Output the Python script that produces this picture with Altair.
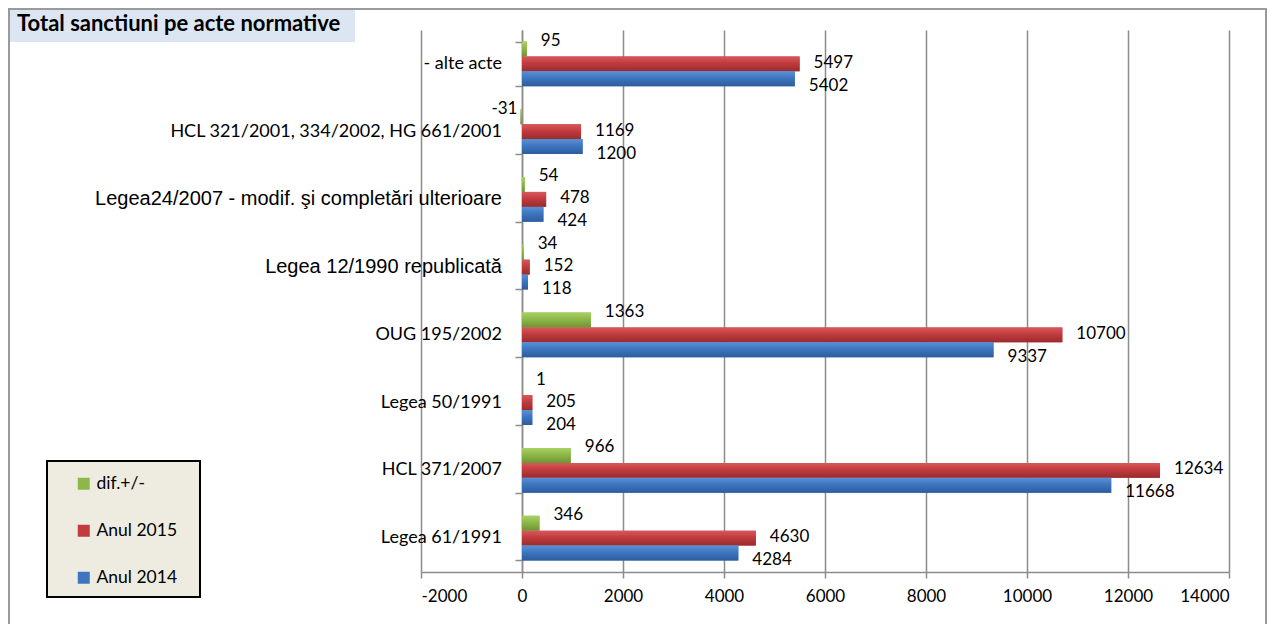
import altair as alt
import pandas as pd

categories = [
    "- alte acte",
    "HCL 321/2001, 334/2002, HG 661/2001",
    "Legea24/2007 - modif. şi completări ulterioare",
    "Legea 12/1990 republicată",
    "OUG 195/2002",
    "Legea 50/1991",
    "HCL 371/2007",
    "Legea 61/1991",
]
arial_categories = ["Legea24/2007 - modif. şi completări ulterioare", "Legea 12/1990 republicată"]
dif = [95, -31, 54, 34, 1363, 1, 966, 346]
anul_2015 = [5497, 1169, 478, 152, 10700, 205, 12634, 4630]
anul_2014 = [5402, 1200, 424, 118, 9337, 204, 11668, 4284]
series = ["dif.+/-", "Anul 2015", "Anul 2014"]
colors = ["#8DB849", "#C23B3E", "#3D76C0"]
shades = {
    "dif.+/-": ["#A9D063", "#8DB849", "#6F9434"],
    "Anul 2015": ["#D6595B", "#C23B3E", "#992B2E"],
    "Anul 2014": ["#5A90D4", "#3D76C0", "#2D5C9C"],
}
x_ticks = [-2000, 0, 2000, 4000, 6000, 8000, 10000, 12000, 14000]
title_text = "Total sanctiuni pe acte normative"

rows = []
for i, c in enumerate(categories):
    for s, vals in zip(series, [dif, anul_2015, anul_2014]):
        rows.append({"cat": c, "serie": s, "v": vals[i], "lab": str(vals[i])})
df = pd.DataFrame(rows)
cat_df = pd.DataFrame({"cat": categories, "arial": [c in arial_categories for c in categories]})

W, H = 808, 542
PL, PT, PR, PB = 413, 22, 38, 52
GRID = "#8C8C8C"
FONT = "Lato"

y_scale = alt.Scale(domain=categories, paddingInner=0.34, paddingOuter=0.17)
y_enc = alt.Y(
    "cat:N",
    sort=categories,
    scale=y_scale,
    axis=alt.Axis(
        title=None,
        labels=False,
        offset=-101,
        domainColor=GRID,
        domainWidth=1.5,
        tickColor=GRID,
        tickWidth=1.5,
        tickSize=7,
        tickBand="extent",
        grid=False,
    ),
)
x_scale = alt.Scale(domain=[-2000, 14000], nice=False)
x_enc = alt.X(
    "v:Q",
    scale=x_scale,
    axis=alt.Axis(
        title=None,
        values=x_ticks,
        grid=True,
        gridColor=GRID,
        gridWidth=1.5,
        domainColor=GRID,
        domainWidth=1.5,
        tickColor=GRID,
        tickWidth=1.5,
        tickSize=6,
        labelFont=FONT,
        labelFontSize=17,
        labelColor="black",
        labelPadding=10,
        labelExpr="datum.value + ''",
    ),
)

base = alt.Chart(df).encode(y=y_enc, yOffset=alt.YOffset("serie:N", sort=series))

bars = base.mark_bar().encode(
    x=x_enc,
    color=alt.Color(
        "serie:N",
        scale=alt.Scale(domain=series, range=colors),
        legend=alt.Legend(
            title=None,
            orient="none",
            legendX=-346,
            legendY=445,
            symbolType="square",
            symbolSize=144,
            symbolStrokeWidth=0,
            labelFont=FONT,
            labelFontSize=17.5,
            labelColor="black",
            rowPadding=28,
            padding=0,
            labelOffset=4,
        ),
    ),
)

shade_layers = []
for s in series:
    top, mid, bot = shades[s]
    grad = alt.LinearGradient(
        gradient="linear",
        x1=0, x2=0, y1=0, y2=1,
        stops=[
            alt.GradientStop(offset=0, color=top),
            alt.GradientStop(offset=0.45, color=mid),
            alt.GradientStop(offset=1, color=bot),
        ],
    )
    shade_layers.append(
        base.mark_bar(color=grad).encode(x=alt.X("v:Q", scale=x_scale)).transform_filter(alt.datum.serie == s)
    )

label_dy = {"dif.+/-": -8, "Anul 2015": -1, "Anul 2014": 7}
label_layers = []
for s in series:
    pos = base.mark_text(align="left", dx=14, dy=label_dy[s], font=FONT, fontSize=17, color="black").encode(
        x=alt.X("v:Q", scale=x_scale), text="lab:N"
    ).transform_filter((alt.datum.serie == s) & (alt.datum.v >= 0))
    neg = base.mark_text(align="right", dx=-3, dy=label_dy[s], font=FONT, fontSize=17, color="black").encode(
        x=alt.X("v:Q", scale=x_scale), text="lab:N"
    ).transform_filter((alt.datum.serie == s) & (alt.datum.v < 0))
    label_layers += [pos, neg]

cat_base = alt.Chart(cat_df).encode(
    y=alt.Y("cat:N", sort=categories, scale=y_scale), x=alt.datum(0), text="cat:N"
)
cat_lato = cat_base.mark_text(align="right", dx=-20, font=FONT, fontSize=18, color="black").transform_filter(
    "!datum.arial"
)
cat_arial = cat_base.mark_text(
    align="right", dx=-20, font="Liberation Sans", fontSize=20, color="black"
).transform_filter("datum.arial")

deco = alt.Chart(pd.DataFrame({"t": [title_text]}))
title_box = deco.mark_rect(fill="#DCE6F2").encode(
    x=alt.value(-PL), x2=alt.value(-66), y=alt.value(-PT), y2=alt.value(12)
)
title_mark = deco.mark_text(
    align="left", baseline="alphabetic", font=FONT, fontSize=22, fontWeight="bold", color="black"
).encode(x=alt.value(-404), y=alt.value(1), text="t:N")
legend_box = deco.mark_rect(fill="#EEECE1", stroke="black", strokeWidth=2).encode(
    x=alt.value(-374), x2=alt.value(-221), y=alt.value(431), y2=alt.value(567)
)
border = deco.mark_rect(fillOpacity=0, stroke="#9A9A9A", strokeWidth=2).encode(
    x=alt.value(-PL + 1), x2=alt.value(W + PR - 1), y=alt.value(-PT + 1), y2=alt.value(H + PB + 40)
)

chart = (
    alt.layer(title_box, title_mark, legend_box, border, bars, *shade_layers, *label_layers, cat_lato, cat_arial)
    .properties(
        width=W,
        height=H,
        padding={"left": PL, "top": PT, "right": PR, "bottom": PB},
        autosize=alt.AutoSizeParams(type="none"),
        background="white",
    )
    .configure_view(strokeWidth=0)
)

chart.save("out.html", embed_options={"renderer": "svg", "actions": False})
